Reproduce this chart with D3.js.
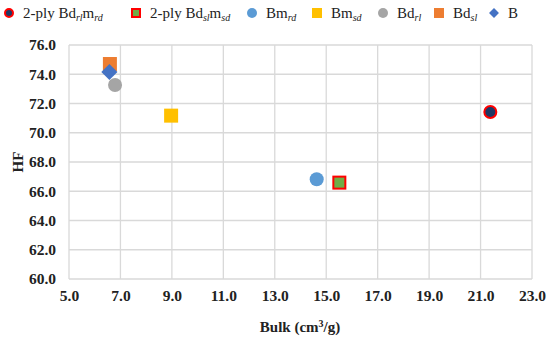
<!DOCTYPE html>
<html><head><meta charset="utf-8">
<script src="https://cdn.jsdelivr.net/npm/d3@7"></script>
<style>body{margin:0;background:#fff}svg{display:block}</style>
</head><body>
<script>
const xTicks = [5,7,9,11,13,15,17,19,21,23];
const yTicks = [60,62,64,66,68,70,72,74,76];
const seriesNames = ["2-ply Bd_rl m_rd","2-ply Bd_sl m_sd","Bm_rd","Bm_sd","Bd_rl","Bd_sl","B"];
const bulkValues = [21.38, 15.51, 14.63, 8.97, 6.79, 6.59, 6.57];
const hfValues = [71.42, 66.59, 66.82, 71.17, 73.26, 74.70, 74.15];
const shapes = ["circle","square","circle","square","circle","square","diamond"];
const fills = ["#203864","#70AD47","#5B9BD5","#FFC000","#A5A5A5","#ED7D31","#4472C4"];
const strokes = ["#FF0000","#FF0000",null,null,null,null,null];
// legend label pieces: [text, subscript]
const legendParts = [
  [["2-ply Bd",""],["","rl"],["m",""],["","rd"]],
  [["2-ply Bd",""],["","sl"],["m",""],["","sd"]],
  [["Bm",""],["","rd"]],
  [["Bm",""],["","sd"]],
  [["Bd",""],["","rl"]],
  [["Bd",""],["","sl"]],
  [["B",""]]
];
const legendX = [9,136,252,317,383,439,494];
const FONT = "'Liberation Serif'";

const W=550,H=338;
const svg=d3.select("body").append("svg").attr("width",W).attr("height",H);
const x=d3.scaleLinear().domain([5,23]).range([69,532]);
const y=d3.scaleLinear().domain([60,76]).range([279,45]);

// grid
svg.append("g").selectAll("line").data(xTicks).join("line")
  .attr("x1",d=>x(d)).attr("x2",d=>x(d)).attr("y1",y(76)).attr("y2",y(60))
  .attr("stroke","#D9D9D9").attr("stroke-width",1.3);
svg.append("g").selectAll("line").data(yTicks).join("line")
  .attr("x1",x(5)).attr("x2",x(23)).attr("y1",d=>y(d)).attr("y2",d=>y(d))
  .attr("stroke","#D9D9D9").attr("stroke-width",1.3);

// axes
const xa=svg.append("g").attr("transform",`translate(0,${y(60)})`)
  .call(d3.axisBottom(x).tickValues(xTicks).tickFormat(d3.format(".1f")).tickSize(0).tickPadding(11));
xa.select(".domain").remove();
xa.selectAll("text").attr("font-size",15.5).attr("font-weight","bold").attr("fill","#222");
const ya=svg.append("g").attr("transform",`translate(${x(5)},0)`)
  .call(d3.axisLeft(y).tickValues(yTicks).tickFormat(d3.format(".1f")).tickSize(0).tickPadding(13));
ya.select(".domain").remove();
ya.selectAll("text").attr("font-size",15.5).attr("font-weight","bold").attr("fill","#222");

// axis titles
const xt=svg.append("text").attr("x",300).attr("y",332).attr("text-anchor","middle")
  .attr("font-size",15).attr("font-weight","bold").attr("fill","#222");
xt.append("tspan").text("Bulk (cm");
xt.append("tspan").text("3").attr("font-size",10).attr("dy",-5);
xt.append("tspan").text("/g)").attr("dy",5);
svg.append("text").attr("transform","translate(23,162) rotate(-90)").attr("text-anchor","middle")
  .attr("font-size",15).attr("font-weight","bold").attr("fill","#222").text("HF");

function marker(g,shape,fill,stroke,cx,cy,s){
  if(shape==="circle"){
    g.append("circle").attr("cx",cx).attr("cy",cy).attr("r",stroke? s/2-1: s/2)
     .attr("fill",fill).attr("stroke",stroke||"none").attr("stroke-width",stroke?2:0);
  } else if(shape==="square"){
    const a = stroke? s-2 : s;
    g.append("rect").attr("x",cx-a/2).attr("y",cy-a/2).attr("width",a).attr("height",a)
     .attr("fill",fill).attr("stroke",stroke||"none").attr("stroke-width",stroke?2:0);
  } else {
    const r=s*0.62;
    g.append("path").attr("d",`M${cx},${cy-r}L${cx+r},${cy}L${cx},${cy+r}L${cx-r},${cy}Z`).attr("fill",fill);
  }
}

// points
const pg=svg.append("g");
const order=[3,2,1,0,4,5,6];
order.forEach(i=>{
  const s = shapes[i]==="diamond"?13:14;
  marker(pg,shapes[i],fills[i],strokes[i],x(bulkValues[i]),y(hfValues[i]),s);
});

// legend
const lg=svg.append("g");
seriesNames.forEach((n,i)=>{
  const cx=legendX[i], cy=13;
  const s = shapes[i]==="diamond"?8:10;
  marker(lg,shapes[i],fills[i],strokes[i],cx,cy,s);
  const t=lg.append("text").attr("x",cx+14).attr("y",cy+5).attr("font-size",15).attr("fill","#222");
  let shifted=false;
  legendParts[i].forEach(p=>{
    if(p[0]){
      const ts=t.append("tspan").text(p[0]);
      if(shifted){ts.attr("dy",-3);shifted=false;}
    } else {
      t.append("tspan").text(p[1]).attr("font-size",10).attr("font-style","italic").attr("dy",3);
      shifted=true;
    }
  });
});
svg.selectAll("text").style("font-family",FONT);
</script>
</body></html>
